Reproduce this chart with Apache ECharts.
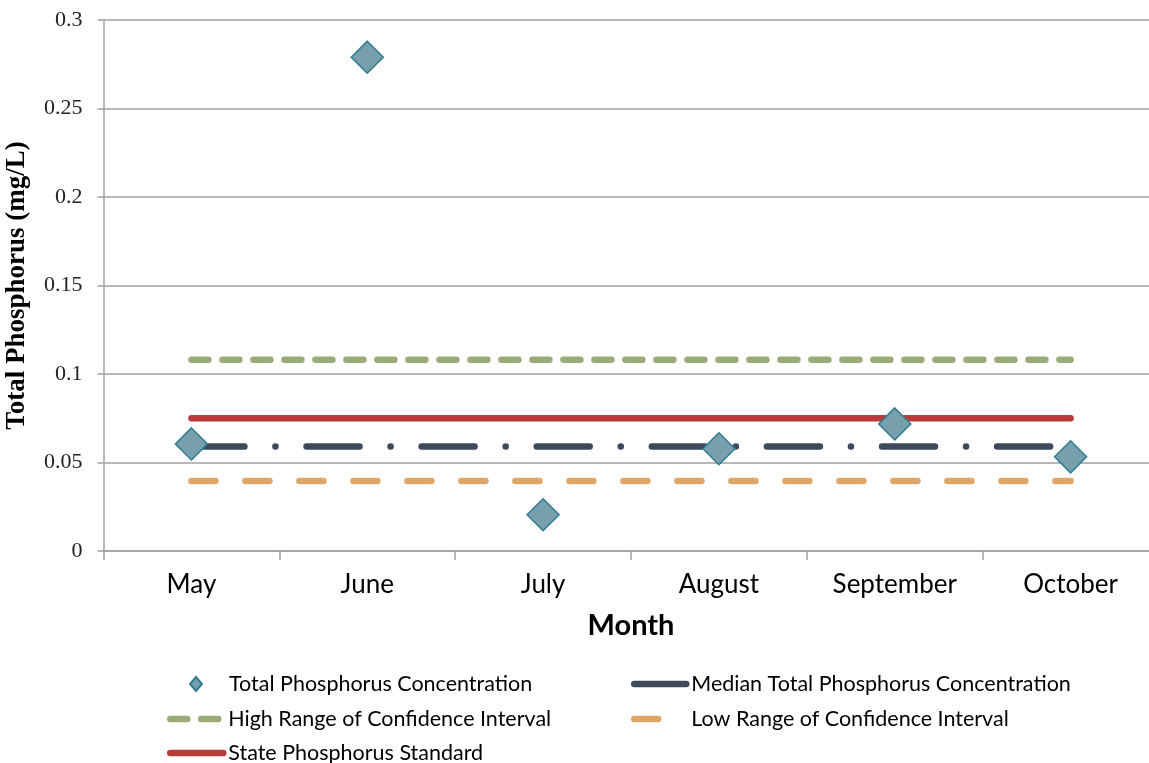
<!DOCTYPE html>
<html>
<head>
<meta charset="utf-8">
<script src="https://cdn.jsdelivr.net/npm/echarts@6/dist/echarts.min.js"></script>
<style>
html,body{margin:0;padding:0;background:#fff;}
#chart{width:1149px;height:763px;}
</style>
</head>
<body>
<div id="chart"></div>
<script>
const months = ['May', 'June', 'July', 'August', 'September', 'October'];
const concentration = [0.0605, 0.279, 0.0205, 0.0578, 0.0718, 0.0532];
const medianValue = [0.059, 0.059, 0.059, 0.059, 0.059, 0.059];
const highCI = [0.108, 0.108, 0.108, 0.108, 0.108, 0.108];
const lowCI = [0.0395, 0.0395, 0.0395, 0.0395, 0.0395, 0.0395];
const stateStandard = [0.075, 0.075, 0.075, 0.075, 0.075, 0.075];
const yTicks = { min: 0, max: 0.3, interval: 0.05 };

const names = {
  conc: 'Total Phosphorus Concentration',
  median: 'Median Total Phosphorus Concentration',
  high: 'High Range of Confidence Interval',
  low: 'Low Range of Confidence Interval',
  std: 'State Phosphorus Standard'
};

const C = {
  diamond: '#779fac', diamondBorder: '#2f7d92',
  median: '#3d4a5b', high: '#9aaa78', low: '#dea768', std: '#b93a3b'
};

const legendFont = { fontFamily: 'Lato', fontSize: 21.5, color: '#000' };
function lineLegend(name, left, top, color, dash, w) {
  return {
    data: [{
      name: name,
      lineStyle: { color: color, width: 6.5, type: dash, cap: 'round' },
      itemStyle: { opacity: 0, color: 'rgba(0,0,0,0)', borderWidth: 0 }
    }],
    left: left, top: top, padding: 0,
    itemWidth: w, itemHeight: 14, itemGap: 5,
    textStyle: legendFont, selectedMode: false
  };
}

const chart = echarts.init(document.getElementById('chart'), null, { renderer: 'canvas' });
chart.setOption({
  animation: false,
  backgroundColor: '#fff',
  grid: { left: 103.5, right: -9.5, top: 20, bottom: 212, containLabel: false, outerBoundsMode: 'none' },
  xAxis: {
    type: 'category', data: months, boundaryGap: true,
    axisLine: { lineStyle: { color: '#a0a0a0', width: 1.5 } },
    axisTick: { show: true, length: 9, lineStyle: { color: '#a0a0a0', width: 1.5 } },
    axisLabel: { fontFamily: 'Lato', fontSize: 26, color: '#000', margin: 21 },
    name: 'Month', nameLocation: 'middle', nameGap: 60,
    nameTextStyle: { fontFamily: 'Lato', fontWeight: 'bold', fontSize: 29, color: '#000' }
  },
  yAxis: {
    type: 'value', min: yTicks.min, max: yTicks.max, interval: yTicks.interval,
    axisLine: { show: true, lineStyle: { color: '#a0a0a0', width: 1.5 } },
    axisTick: { show: true, length: 6, lineStyle: { color: '#a0a0a0', width: 1.5 } },
    splitLine: { lineStyle: { color: '#a0a0a0', width: 1.5 } },
    axisLabel: { fontFamily: 'Liberation Serif', fontSize: 22, color: '#222', margin: 21 },
    name: 'Total Phosphorus (mg/L)', nameLocation: 'middle', nameGap: 73, nameRotate: 90,
    nameTextStyle: { fontFamily: 'Liberation Serif', fontWeight: 'bold', fontSize: 27, color: '#000' }
  },
  legend: [
    {
      data: [{ name: names.conc, icon: 'diamond' }],
      left: 189, top: 673, padding: 0,
      itemWidth: 12, itemHeight: 14, symbolKeepAspect: true,
      textStyle: Object.assign({ padding: [0, 0, 0, 22] }, legendFont), selectedMode: false
    },
    lineLegend(names.high, 167, 708, C.high, [17, 14, 17, 100], 53),
    lineLegend(names.std, 167, 742, C.std, 'solid', 53),
    lineLegend(names.median, 631, 673, C.median, 'solid', 52),
    lineLegend(names.low, 631, 708, C.low, [24, 100], 52)
  ],
  series: [
    {
      name: names.high, type: 'line', data: highCI, symbol: 'none', z: 2,
      lineStyle: { color: C.high, width: 6.5, type: [17, 14], cap: 'round' },
      itemStyle: { color: C.high }
    },
    {
      name: names.std, type: 'line', data: stateStandard, symbol: 'none', z: 2,
      lineStyle: { color: C.std, width: 6.5, type: 'solid', cap: 'round' },
      itemStyle: { color: C.std }
    },
    {
      name: names.median, type: 'line', data: medianValue, symbol: 'none', z: 2,
      lineStyle: { color: C.median, width: 6.5, type: [53, 31, 0.1, 31], cap: 'round' },
      itemStyle: { color: C.median }
    },
    {
      name: names.low, type: 'line', data: lowCI, symbol: 'none', z: 2,
      lineStyle: { color: C.low, width: 6.5, type: [24, 30], cap: 'round' },
      itemStyle: { color: C.low }
    },
    {
      name: names.conc, type: 'scatter', data: concentration, z: 5,
      symbol: 'diamond', symbolSize: [32, 32],
      itemStyle: { color: C.diamond, borderColor: C.diamondBorder, borderWidth: 1.5, opacity: 1 }
    }
  ]
});
</script>
</body>
</html>
